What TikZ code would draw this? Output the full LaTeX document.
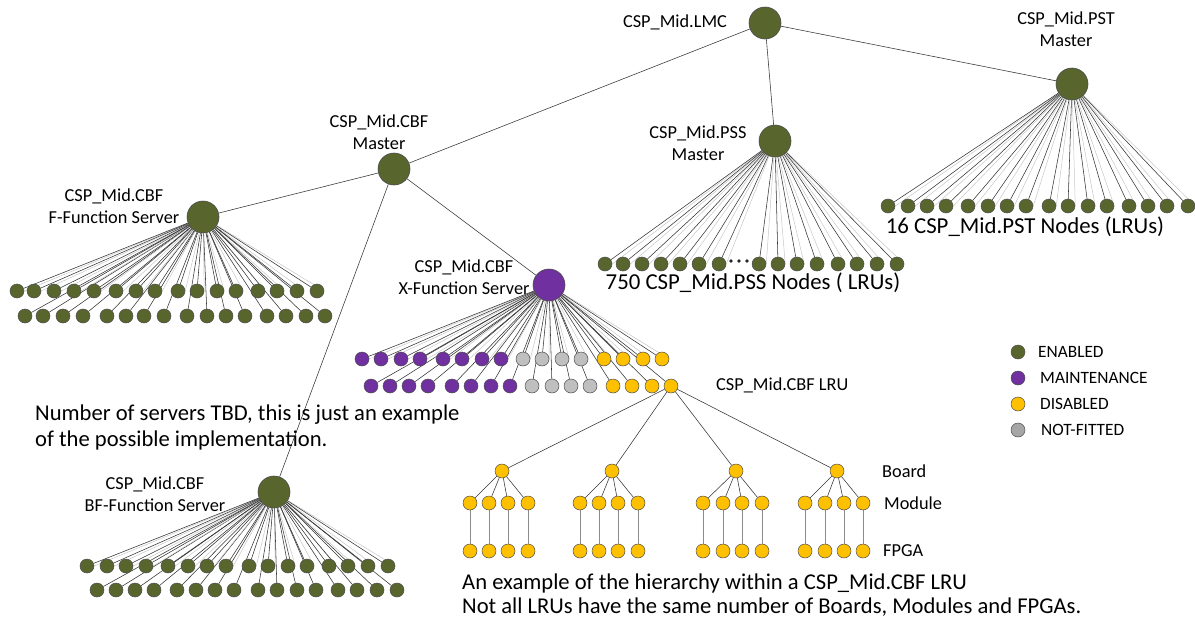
\documentclass[tikz,border=0pt]{standalone}
\usepackage{fontspec}
\setmainfont{Carlito}
\usetikzlibrary{backgrounds}
\definecolor{enc}{RGB}{88,102,46}
\definecolor{mtc}{RGB}{112,48,160}
\definecolor{dsc}{RGB}{255,192,0}
\definecolor{nfc}{RGB}{191,191,191}
\definecolor{nfl}{RGB}{166,166,166}
\begin{document}
\begin{tikzpicture}[x=1pt,y=-1pt,
  big/.style={circle,draw=black!70,line width=0.6pt,minimum size=32pt,inner sep=0pt},
  sm/.style={circle,draw=black!70,line width=0.5pt,minimum size=14pt,inner sep=0pt},
  link/.style={draw=black!80,line width=0.55pt},
  ghost/.style={draw=black!22,line width=0.5pt},
  vlink/.style={draw=black!45,line width=0.9pt},
  lbl/.style={font=\fontsize{18.3}{21.5}\selectfont,align=center,inner sep=0pt},
  txt/.style={font=\fontsize{22.6}{25}\selectfont,anchor=west,inner sep=0pt},
  big txt/.style={font=\fontsize{22.8}{25}\selectfont,inner sep=0pt},
  leg/.style={font=\fontsize{17.3}{20}\selectfont,anchor=west,inner sep=0pt}
]
\useasboundingbox (0,0) rectangle (1195,624);

% main nodes
\node[big,fill=enc] (lmc) at (765,23) {};
\node[big,fill=enc] (pst) at (1072,84) {};
\node[big,fill=enc] (pss) at (775,141) {};
\node[big,fill=enc] (cbf) at (394,169) {};
\node[big,fill=enc] (fs) at (203,217) {};
\node[big,fill=mtc] (xs) at (549,285) {};
\node[big,fill=enc] (bfs) at (274,492) {};

% F-function server children
\foreach \x [count=\i] in {17,34,54,74,94,116,136,155,178,197,217,236,258,277,297,317}
  \node[sm,fill=enc] (fa\i) at (\x,291) {};
\foreach \x [count=\i] in {25,43,63,83,107,126,144,164,187,207,226,245,267,286,306,325}
  \node[sm,fill=enc] (fb\i) at (\x,316) {};

% X-function server children
\foreach \x/\c [count=\i] in {362/mtc,381/mtc,401/mtc,420/mtc,443/mtc,462/mtc,482/mtc,501/mtc,523/nfc,542/nfc,562/nfc,581/nfc,604/dsc,623/dsc,643/dsc,662/dsc}
  \node[sm,fill=\c] (xa\i) at (\x,359) {};
\foreach \x/\c [count=\i] in {371/mtc,390/mtc,409/mtc,428/mtc,452/mtc,471/mtc,491/mtc,510/mtc,532/nfc,552/nfc,571/nfc,590/nfc,613/dsc,632/dsc,652/dsc,671/dsc}
  \node[sm,fill=\c] (xb\i) at (\x,386) {};

% PSS children
\foreach \x [count=\i] in {605,623,642,661,680,699,719,759,778,797,817,838,857,877,897}
  \node[sm,fill=enc] (ps\i) at (\x,264) {};
\fill[black!85] (731,261) circle (1.9) (739,261) circle (1.9) (747,261) circle (1.9);

% PST children
\foreach \x [count=\i] in {888,908,927,946,968,988,1007,1026,1049,1068,1088,1107,1129,1148,1167,1188}
  \node[sm,fill=enc] (pt\i) at (\x,206) {};

% BF-function server children
\foreach \x [count=\i] in {87,107,126,146,168,188,207,226,249,268,288,307,329,348,368,388}
  \node[sm,fill=enc] (ba\i) at (\x,566) {};
\foreach \x [count=\i] in {97,116,135,154,177,196,215,234,258,277,297,316,338,357,377,397}
  \node[sm,fill=enc] (bb\i) at (\x,590) {};

% LRU hierarchy
\foreach \bx/\ma/\mb/\mc/\md [count=\j] in {502/470/489/508/528,612/580/599/618/638,736/703/723/742/762,837/805/825/844/863}{
  \node[sm,fill=dsc] (bd\j) at (\bx,471) {};
  \foreach \mx [count=\k] in {\ma,\mb,\mc,\md}{
    \node[sm,fill=dsc] (md\j\k) at (\mx,503) {};
    \node[sm,fill=dsc] (fp\j\k) at (\mx,551) {};
  }
}

% connectors
\begin{scope}[on background layer]
  \draw[link] (lmc) -- (cbf);
  \draw[link] (lmc) -- (pss);
  \draw[link] (lmc) -- (pst);
  \draw[link] (cbf) -- (fs);
  \draw[link] (cbf) -- (xs);
  \draw[link] (cbf) -- (bfs);
  \foreach \i in {1,...,16}{
    \draw[ghost] (fs) -- (fa\i.east);
    \draw[link] (fs) -- (fa\i);
    \draw[link] (fs) -- (fb\i);
    \draw[ghost] (xs) -- (xa\i.east);
    \draw[link] (xs) -- (xa\i);
    \draw[link] (xs) -- (xb\i);
    \draw[ghost] (pst) -- (pt\i.east);
    \draw[link] (pst) -- (pt\i);
    \draw[ghost] (bfs) -- (ba\i.east);
    \draw[link] (bfs) -- (ba\i);
    \draw[link] (bfs) -- (bb\i);
  }
  \foreach \i in {1,...,15}{
    \draw[ghost] (pss) -- (ps\i.east);
    \draw[link] (pss) -- (ps\i);
  }
  \foreach \j in {1,...,4}{
    \draw[link] (xb16) -- (bd\j);
    \foreach \k in {1,...,4}{
      \draw[link] (bd\j) -- (md\j\k);
      \draw[vlink] (md\j\k) -- (fp\j\k);
    }
  }
\end{scope}

% labels
\node[lbl] (llmc) at (675,22) {CSP\_Mid.LMC};
\node[lbl] (lpst) at (1066,29) {CSP\_Mid.PST\\Master};
\node[lbl] (lpss) at (698,143) {CSP\_Mid.PSS\\Master};
\node[lbl] (lcbf) at (379,132) {CSP\_Mid.CBF\\Master};
\node[lbl] (lfs) at (114,206) {CSP\_Mid.CBF\\F-Function Server};
\node[lbl] (lxs) at (464,277) {CSP\_Mid.CBF\\X-Function Server};
\node[lbl] (lbfs) at (155,494) {CSP\_Mid.CBF\\BF-Function Server};
\node[lbl,anchor=west] (llru) at (716,385) {CSP\_Mid.CBF LRU};
\node[lbl,anchor=west] (lbd) at (882,471) {Board};
\node[lbl,anchor=west] (lmd) at (884,503) {Module};
\node[lbl,anchor=west] (lfp) at (883,551) {FPGA};
\node[big txt] (tpss) at (753,283) {750 CSP\_Mid.PSS Nodes ( LRUs)};
\node[big txt] (tpst) at (1025,227) {16 CSP\_Mid.PST Nodes (LRUs)};
\node[txt] (tn1) at (35,415) {Number of servers TBD, this is just an example};
\node[txt] (tn2) at (35,440) {of the possible implementation.};
\node[txt] (th1) at (462,583) {An example of the hierarchy within a CSP\_Mid.CBF LRU};
\node[txt] (th2) at (462,607) {Not all LRUs have the same number of Boards, Modules and FPGAs.};

% legend
\node[sm,fill=enc] (k1) at (1018,352) {};
\node[sm,fill=mtc] (k2) at (1018,378) {};
\node[sm,fill=dsc] (k3) at (1018,404) {};
\node[sm,fill=nfl] (k4) at (1018,430) {};
\node[leg] (kt1) at (1038,352) {ENABLED};
\node[leg] (kt2) at (1040,378) {MAINTENANCE};
\node[leg] (kt3) at (1040,404) {DISABLED};
\node[leg] (kt4) at (1041,430) {NOT-FITTED};
\end{tikzpicture}
\end{document}
